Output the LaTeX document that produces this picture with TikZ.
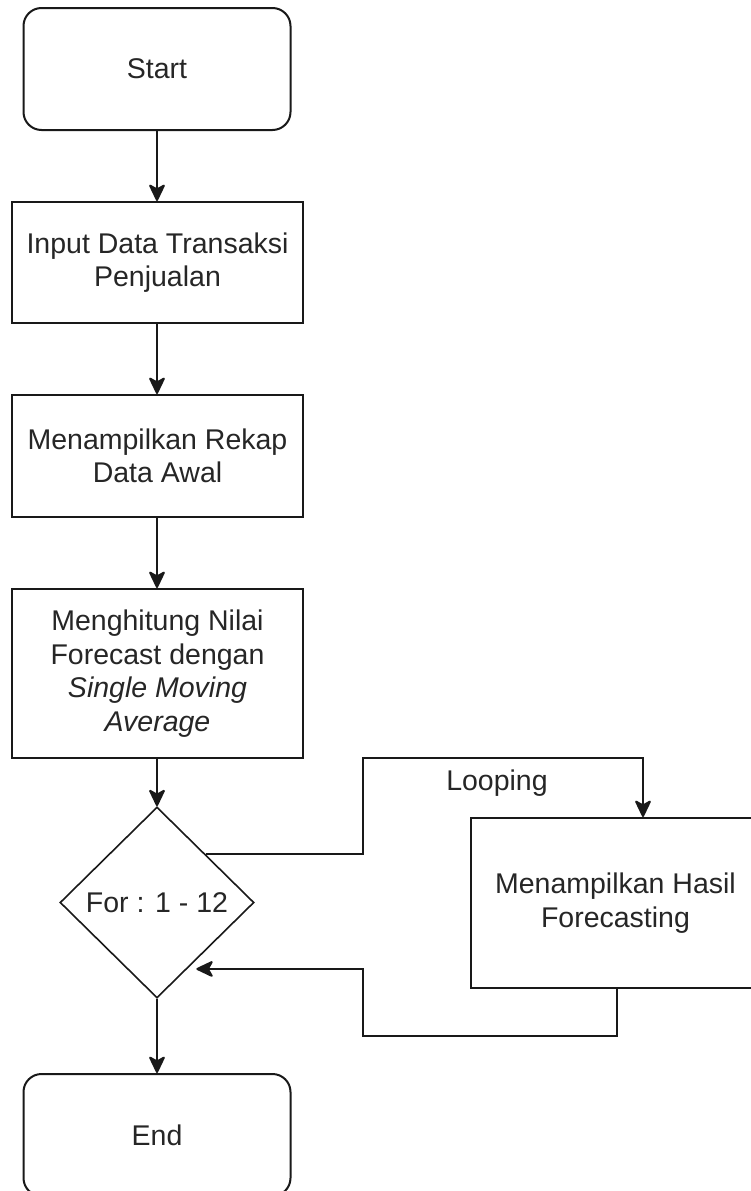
\documentclass[tikz,border=0pt]{standalone}
\usepackage{fontspec}
\setmainfont{Liberation Sans}
\usetikzlibrary{shapes.geometric,arrows.meta,calc}
\begin{document}
\begin{tikzpicture}[x=1pt,y=-1pt,
  every node/.style={font=\fontsize{28.5}{33.5}\selectfont, text=black!85},
  boxstyle/.style={draw=black!90, line width=2pt, rectangle, inner sep=0pt, align=center},
  termstyle/.style={boxstyle, rounded corners=18pt},
  decstyle/.style={draw=black!90, line width=1.6pt, diamond, inner sep=0pt},
  arr/.style={draw=black!90, line width=2pt, -{Stealth[length=19pt,width=18pt,inset=5pt,round=false]}},
  plain/.style={draw=black!90, line width=2pt}
]
\useasboundingbox (0,0) rectangle (751,1191);
\fill[white] (0,0) rectangle (751,1191);

\node[termstyle, minimum width=267pt, minimum height=122pt] (start) at (157,69) {Start};
\node[boxstyle, minimum width=291pt, minimum height=121pt] (input) at (157.5,262.5) {Input Data Transaksi\\Penjualan};
\node[boxstyle, minimum width=291pt, minimum height=122pt] (rekap) at (157.5,456) {Menampilkan Rekap\\Data Awal};
\node[boxstyle, minimum width=291pt, minimum height=169pt] (hitung) at (157.5,673.5) {Menghitung Nilai\\Forecast dengan\\\textit{Single Moving}\\\textit{Average}};
\node[decstyle, minimum width=194pt, minimum height=191pt] (dia) at (157,902.5) {For : 1 - 12};
\node[boxstyle, minimum width=289pt, minimum height=170pt] (hasil) at (615.5,903) {Menampilkan Hasil\\Forecasting};
\node[termstyle, minimum width=267pt, minimum height=122pt] (end) at (157,1135) {End};

\draw[arr] (start.south) -- (start.south |- input.north);
\draw[arr] (start.south |- input.south) -- (start.south |- rekap.north);
\draw[arr] (start.south |- rekap.south) -- (start.south |- hitung.north);
\draw[arr] (start.south |- hitung.south) -- (dia.north);
\draw[arr] (dia.south) -- (end.north);

\coordinate (p1) at ($(dia.north)!0.5!(dia.east)$);
\coordinate (p2) at ($(dia.south)!0.31!(dia.east)$);
\coordinate (la) at (363,758);
\coordinate (lb) at (643,758);
\coordinate (r1) at (617,1036);
\coordinate (r2) at (363,1036);

\draw[arr] (p1) -| (la) -- (lb) -- (lb |- hasil.north);
\node[inner sep=0pt] (looping) at (497,783) {Looping};
\draw[arr, shorten >=9pt] (r1 |- hasil.south) -- (r1) -- (r2) |- (p2);
\end{tikzpicture}
\end{document}
